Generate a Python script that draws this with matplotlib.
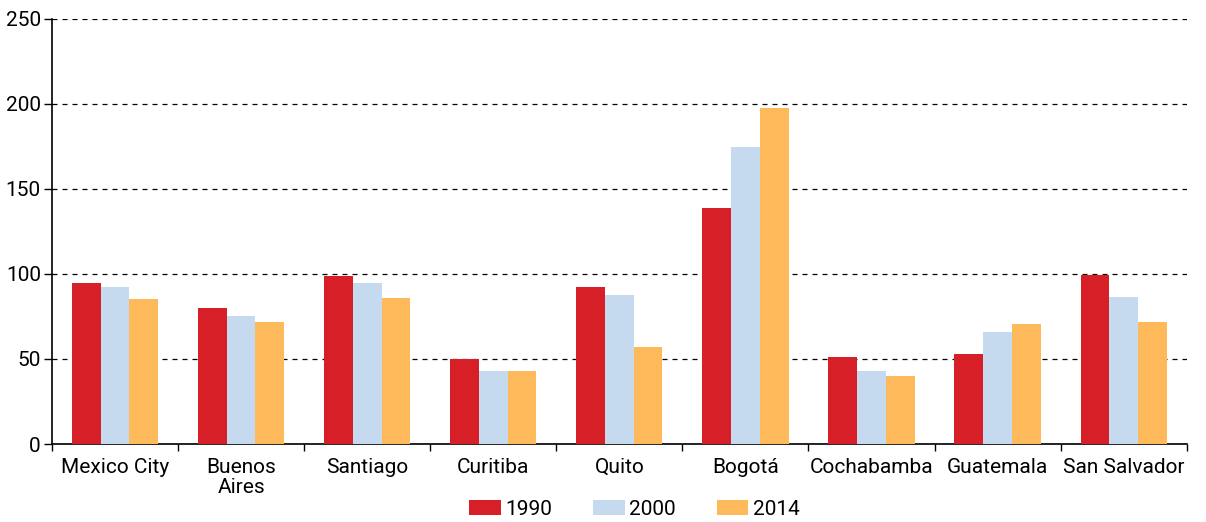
import matplotlib.pyplot as plt
import numpy as np

plt.rcParams['font.family'] = ['Liberation Sans Narrow', 'Roboto', 'DejaVu Sans']

cities = ['Mexico City', 'Buenos\nAires', 'Santiago', 'Curitiba', 'Quito',
          'Bogotá', 'Cochabamba', 'Guatemala', 'San Salvador']
years = ['1990', '2000', '2014']
v1990 = [94.9, 80.0, 99.0, 49.8, 92.0, 139.0, 51.0, 52.7, 99.3]
v2000 = [92.2, 75.0, 94.8, 43.2, 87.3, 174.5, 43.2, 66.0, 86.2]
v2014 = [85.0, 72.0, 85.6, 43.2, 57.0, 197.3, 39.8, 70.8, 71.6]
colors = ['#D71F27', '#C5D9EF', '#FDB95A']

fig = plt.figure(figsize=(12.06, 5.22), dpi=100)
ax = fig.add_axes([0.0431, 0.1494, 0.9409, 0.8148])

x = np.arange(len(cities))
w = 0.228
for i, (vals, yr) in enumerate(zip([v1990, v2000, v2014], years)):
    ax.bar(x + (i - 1) * w, vals, w, color=colors[i], label=yr, zorder=3,
           linewidth=0)

ax.set_xlim(-0.5, len(cities) - 0.5)
ax.set_ylim(0, 250)
ax.set_yticks(range(0, 251, 50))
ax.yaxis.grid(True, linestyle=(0, (4, 4)), color='black', linewidth=0.9, zorder=0)

ax.set_xticks(x)
ax.set_xticklabels(cities, fontsize=15, linespacing=1.05)
ax.set_xticks(np.arange(-0.5, len(cities), 1), minor=True)
ax.tick_params(axis='x', which='major', length=0, pad=10)
ax.tick_params(axis='x', which='minor', length=5, width=1, direction='out')
ax.tick_params(axis='y', labelsize=15, length=6, width=1, pad=2)

for s in ['top', 'right']:
    ax.spines[s].set_visible(False)
for s in ['left', 'bottom']:
    ax.spines[s].set_linewidth(1.2)

fig.legend(loc='lower center', bbox_to_anchor=(0.526, -0.03), ncol=3,
           frameon=False, fontsize=15, handlelength=1.5, handleheight=0.75,
           handletextpad=0.2, columnspacing=2.0)

fig.savefig('out.png', dpi=100)
